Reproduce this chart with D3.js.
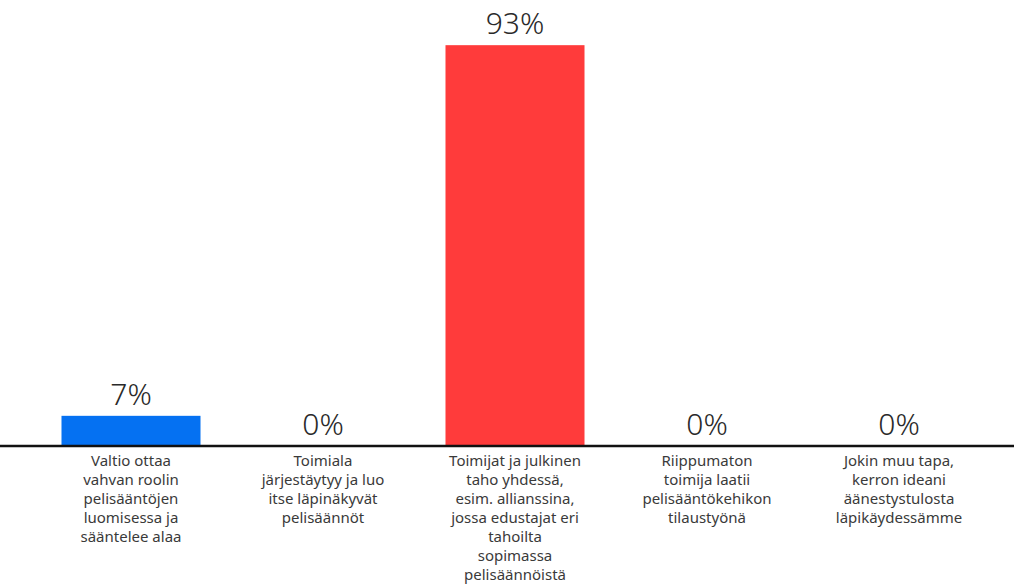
<!DOCTYPE html>
<html>
<head>
<meta charset="utf-8">
<script src="https://cdn.jsdelivr.net/npm/d3@7"></script>
<style>
  body { margin: 0; background: #fff; }
  text { font-family: "Noto Sans", sans-serif; fill: #333; }
</style>
</head>
<body>
<svg id="chart"></svg>
<script>
var width = 1014;
var height = 585;
var baseY = 446;

// data
var categories = [
  "Valtio ottaa vahvan roolin pelisääntöjen luomisessa ja sääntelee alaa",
  "Toimiala järjestäytyy ja luo itse läpinäkyvät pelisäännöt",
  "Toimijat ja julkinen taho yhdessä, esim. allianssina, jossa edustajat eri tahoilta sopimassa pelisäännöistä",
  "Riippumaton toimija laatii pelisääntökehikon tilaustyönä",
  "Jokin muu tapa, kerron ideani äänestystulosta läpikäydessämme"
];
var labelLines = [
  ["Valtio ottaa", "vahvan roolin", "pelisääntöjen", "luomisessa ja", "sääntelee alaa"],
  ["Toimiala", "järjestäytyy ja luo", "itse läpinäkyvät", "pelisäännöt"],
  ["Toimijat ja julkinen", "taho yhdessä,", "esim. allianssina,", "jossa edustajat eri", "tahoilta", "sopimassa", "pelisäännöistä"],
  ["Riippumaton", "toimija laatii", "pelisääntökehikon", "tilaustyönä"],
  ["Jokin muu tapa,", "kerron ideani", "äänestystulosta", "läpikäydessämme"]
];
var values = [7, 0, 93, 0, 0];
var colors = ["#0571f2", "#888", "#ff3b3b", "#888", "#888"];

var svg = d3.select("#chart")
  .attr("width", width)
  .attr("height", height);

var x = d3.scaleBand()
  .domain(categories)
  .range([35, 995])
  .paddingInner(0.276)
  .paddingOuter(0.138);

var y = d3.scaleLinear()
  .domain([0, 100])
  .range([baseY, 15]);

// bars
svg.selectAll("rect.bar")
  .data(values)
  .enter()
  .append("rect")
  .attr("class", "bar")
  .attr("x", function(d, i) { return x(categories[i]); })
  .attr("y", function(d) { return y(d); })
  .attr("width", x.bandwidth())
  .attr("height", function(d) { return baseY - y(d); })
  .style("fill", function(d, i) { return colors[i]; });

// value labels
svg.selectAll("text.value")
  .data(values)
  .enter()
  .append("text")
  .attr("class", "value")
  .attr("x", function(d, i) { return x(categories[i]) + x.bandwidth() / 2; })
  .attr("y", function(d) { return y(d) - 11; })
  .attr("text-anchor", "middle")
  .style("font-size", "30px")
  .style("font-weight", 300)
  .style("fill", "#2a2a2a")
  .text(function(d) { return d + "%"; });

// baseline
svg.append("line")
  .attr("x1", 0)
  .attr("y1", baseY)
  .attr("x2", width)
  .attr("y2", baseY)
  .attr("stroke", "#111")
  .attr("stroke-width", 2.5);

// category labels
var labels = svg.selectAll("text.cat")
  .data(labelLines)
  .enter()
  .append("text")
  .attr("class", "cat")
  .attr("text-anchor", "middle")
  .style("font-size", "15px")
  .style("fill", "#3a3a3a");

labels.selectAll("tspan")
  .data(function(d, i) { return d.map(function(s) { return { s: s, i: i }; }); })
  .enter()
  .append("tspan")
  .attr("x", function(d) { return x(categories[d.i]) + x.bandwidth() / 2; })
  .attr("y", function(d, j) { return 466 + j * 19; })
  .text(function(d) { return d.s; });
</script>
</body>
</html>
